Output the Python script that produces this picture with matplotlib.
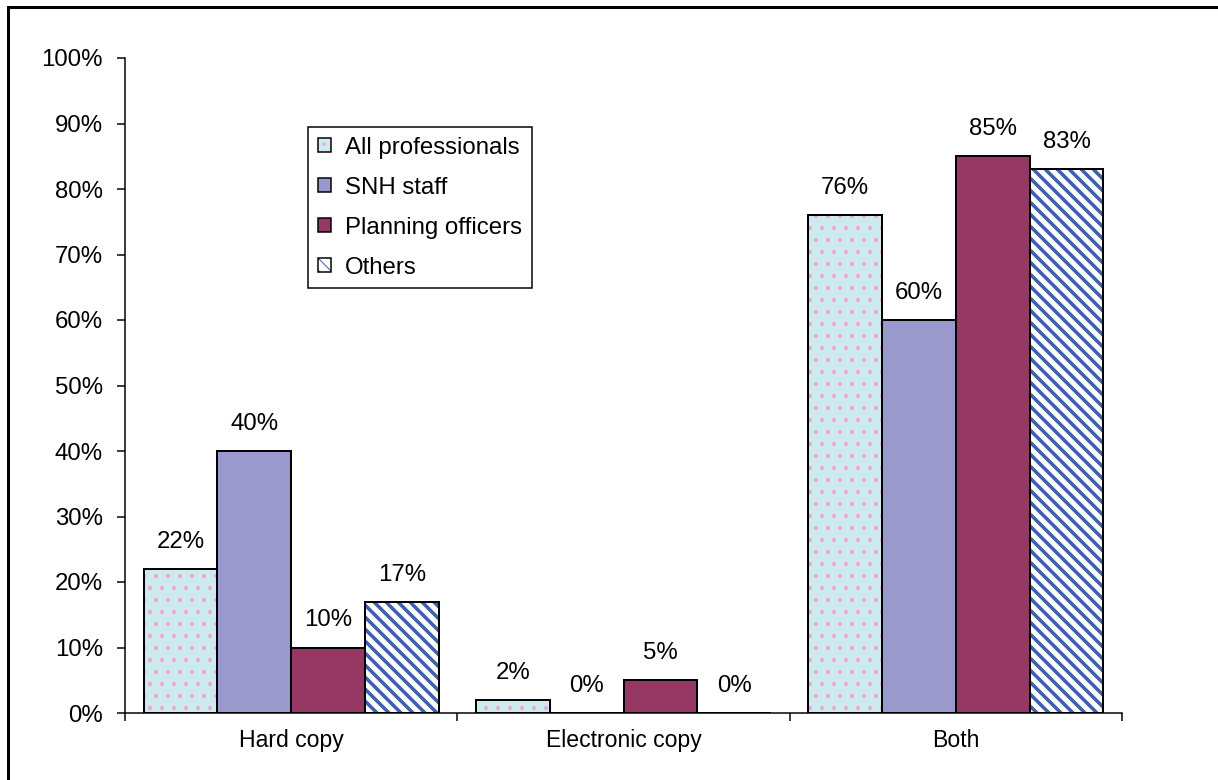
import numpy as np
import matplotlib
matplotlib.use("Agg")
import matplotlib.pyplot as plt
from matplotlib.patches import Patch
from matplotlib.lines import Line2D

categories = ["Hard copy", "Electronic copy", "Both"]
groups = ["All professionals", "SNH staff", "Planning officers", "Others"]
all_prof = [22, 2, 76]
snh_staff = [40, 0, 60]
planning = [10, 5, 85]
others = [17, 0, 83]
yticks = [0, 10, 20, 30, 40, 50, 60, 70, 80, 90, 100]

plt.rcParams["font.family"] = ["Liberation Sans", "DejaVu Sans"]
plt.rcParams["font.size"] = 23

DPI = 72
fig = plt.figure(figsize=(1218 / DPI, 780 / DPI), dpi=DPI)
ax = fig.add_axes([125 / 1218, 1 - 713 / 780, 997 / 1218, 655 / 780])

# fill colour, hatch colour, hatch pattern
styles = [
    ("#CDEBEF", "#F2A6CF", "."),
    ("#9999CC", None, None),
    ("#953863", None, None),
    ("white", "#3D5FAF", "\\\\"),
]
series = [all_prof, snh_staff, planning, others]

x = np.arange(len(categories))
w = 0.222
handles = []
for i, (vals, (fc, hc, hatch)) in enumerate(zip(series, styles)):
    pos = x + (i - 1.5) * w
    if hatch:
        lw_h = 1.8 if hatch == "." else 3.5
        with plt.rc_context({"hatch.linewidth": lw_h}):
            ax.bar(pos, vals, w, color=fc, edgecolor=hc, hatch=hatch, linewidth=0)
            fill = Patch(facecolor=fc, edgecolor=hc, hatch=hatch, linewidth=0)
        bars = ax.bar(pos, vals, w, fill=False, edgecolor="black", linewidth=2)
        outline = Patch(fill=False, edgecolor="black", linewidth=1.5)
        handles.append((fill, outline))
    else:
        bars = ax.bar(pos, vals, w, color=fc, edgecolor="black", linewidth=2)
        handles.append(Patch(facecolor=fc, edgecolor="black", linewidth=1.5))
    ax.bar_label(bars, labels=[f"{v}%" for v in vals], padding=16, fontsize=24)

ax.set_xlim(-0.5, 2.5)
ax.set_ylim(0, 100)
ax.set_yticks(yticks)
ax.set_yticklabels([f"{t}%" for t in yticks], fontsize=24)

# ticks at group boundaries, labels centred under each group
ax.set_xticks([-0.5, 0.5, 1.5, 2.5])
ax.set_xticklabels([])
ax.set_xticks(x, minor=True)
ax.set_xticklabels(categories, minor=True, fontsize=23)
ax.tick_params(axis="x", which="major", length=8, width=1.5, direction="out")
ax.tick_params(axis="x", which="minor", length=0, pad=16)
ax.tick_params(axis="y", length=8, width=1.5, direction="out", pad=14)

for s in ["top", "right"]:
    ax.spines[s].set_visible(False)
for s in ["left", "bottom"]:
    ax.spines[s].set_linewidth(1.5)

leg = ax.legend(handles, groups, loc="upper left",
                bbox_to_anchor=((308 - 125) / 997, (713 - 127) / 655),
                borderaxespad=0, fancybox=False, framealpha=1,
                handlelength=0.55, handleheight=0.55, handletextpad=0.6,
                labelspacing=0.75, borderpad=0.4, fontsize=24)
leg.get_frame().set_edgecolor("black")
leg.get_frame().set_linewidth(1.5)

# outer border on the left and top edges
fig.add_artist(Line2D([8 / 1218, 8 / 1218], [0, 1 - 7 / 780], color="black", lw=3))
fig.add_artist(Line2D([8 / 1218, 1], [1 - 7 / 780, 1 - 7 / 780], color="black", lw=3))

fig.savefig("out.png", dpi=DPI)
